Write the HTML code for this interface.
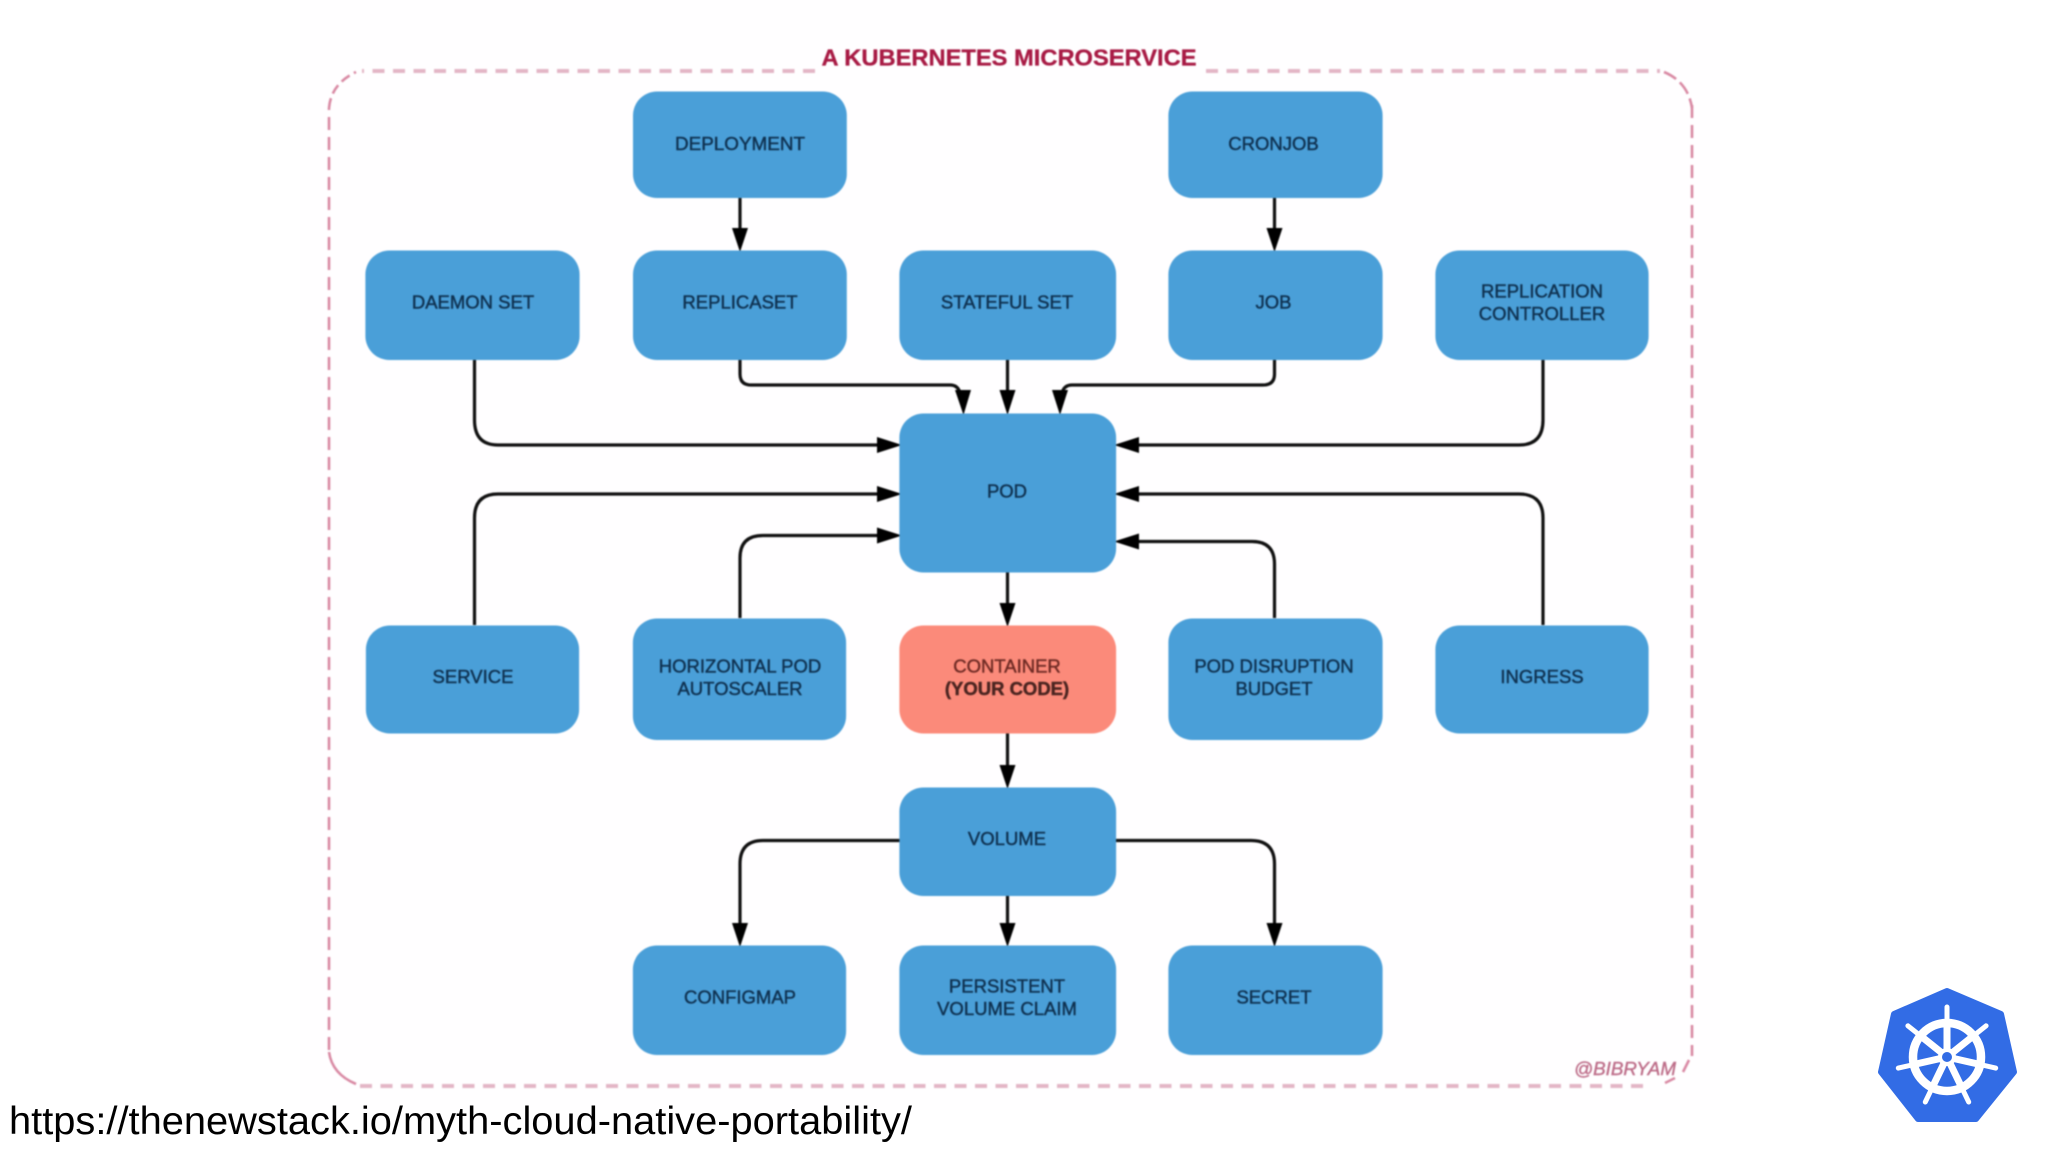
<!DOCTYPE html>
<html>
<head>
<meta charset="utf-8">
<style>
html,body{margin:0;padding:0;background:#fff;width:2048px;height:1152px;overflow:hidden}
svg{display:block;position:absolute;left:0;top:0}
text{font-family:"Liberation Sans",Arial,sans-serif}
.d{filter:blur(.9px)}
.b{fill:#4a9fd8}
.t text,.t{font-size:18.5px;fill:#0f3150;text-anchor:middle;stroke:#0f3150;stroke-width:.45}
.c{fill:none;stroke:#101010;stroke-width:3.2}
.a{fill:#000}
.ds{fill:none;stroke:#e3b6c6;stroke-width:4;stroke-dasharray:12 8.5}
.dv{fill:none;stroke:#d98aa4;stroke-width:2.6;stroke-dasharray:13 7}
</style>
</head>
<body>
<svg width="2048" height="1152" viewBox="0 0 2048 1152" xmlns="http://www.w3.org/2000/svg">
<rect width="2048" height="1152" fill="#fff"/>
<rect x="300" y="0" width="1420" height="1110" fill="#fffeff"/>
<g class="d">
  <!-- dashed frame -->
  <path class="ds" d="M815 71H362"/>
  <path class="ds" d="M1206 71H1660"/>
  <path class="ds" d="M360 1086H1650"/>
  <path class="dv" d="M329 1050V108"/>
  <path class="dv" d="M1692 105V1056"/>
  <path d="M329 108Q331 84 356 72" fill="none" stroke="#d98aa4" stroke-width="2.6" stroke-dasharray="10 5"/>
  <path d="M1664 72Q1688 82 1692 108" fill="none" stroke="#d98aa4" stroke-width="2.6" stroke-dasharray="14 5"/>
  <path d="M329 1052Q332 1074 356 1084" fill="none" stroke="#d98aa4" stroke-width="2.6"/>
  <path d="M1665 1083L1675 1078M1683 1072L1689 1060" fill="none" stroke="#d98aa4" stroke-width="2.6"/>
  <text x="1009" y="65.5" text-anchor="middle" font-size="23.5" font-weight="700" fill="#a81a44" stroke="#a81a44" stroke-width=".3" textLength="375" lengthAdjust="spacingAndGlyphs">A KUBERNETES MICROSERVICE</text>
  <text x="1574" y="1075" font-size="18.3" font-style="italic" fill="#bd6c88" stroke="#bd6c88" stroke-width=".4" textLength="102" lengthAdjust="spacingAndGlyphs">@BIBRYAM</text>

  <!-- connectors -->
  <path class="c" d="M740 198V232"/>
  <path class="c" d="M1274.5 198V232"/>
  <path class="c" d="M740 360V374Q740 385 751 385H950Q958 385 960 393"/>
  <path class="c" d="M1007.5 360V394"/>
  <path class="c" d="M1274.5 360V374Q1274.5 385 1263 385H1072Q1064 385 1062 393"/>
  <path class="c" d="M474.5 360V420Q474.5 445 498 445H882"/>
  <path class="c" d="M1543 360V420Q1543 445 1519 445H1134"/>
  <path class="c" d="M474.5 625V518Q474.5 494 498 494H882"/>
  <path class="c" d="M1543 625V518Q1543 494 1519 494H1134"/>
  <path class="c" d="M740 618V558Q740 535.500 763 535.500H882"/>
  <path class="c" d="M1274.5 618V564Q1274.5 541.5 1252 541.5H1134"/>
  <path class="c" d="M1007.5 572V606"/>
  <path class="c" d="M1007.5 733V768"/>
  <path class="c" d="M1007.5 896V926"/>
  <path class="c" d="M900 840.5H763Q740 840.5 740 864V926"/>
  <path class="c" d="M1116 840.5H1251Q1274.5 840.5 1274.5 864V926"/>

  <!-- arrowheads -->
  <polygon class="a" points="732,228 748,228 740,252"/>
  <polygon class="a" points="1266.500,228 1282.500,228 1274.5,252"/>
  <polygon class="a" points="955,390 971,390 963.500,415"/>
  <polygon class="a" points="999.500,390 1015.500,390 1007.5,415"/>
  <polygon class="a" points="1052,390 1068,390 1060,415"/>
  <polygon class="a" points="877,437 877,453 902,445"/>
  <polygon class="a" points="1139,437 1139,453 1114,445"/>
  <polygon class="a" points="877,486 877,502 902,494"/>
  <polygon class="a" points="1139,486 1139,502 1114,494"/>
  <polygon class="a" points="877,527.500 877,543.500 902,535.500"/>
  <polygon class="a" points="1139,533.500 1139,549.500 1114,541.500"/>
  <polygon class="a" points="999.500,603 1015.500,603 1007.5,627"/>
  <polygon class="a" points="999.500,765 1015.500,765 1007.5,789"/>
  <polygon class="a" points="999.500,923 1015.500,923 1007.5,947"/>
  <polygon class="a" points="732,923 748,923 740,947"/>
  <polygon class="a" points="1266.500,923 1282.500,923 1274.5,947"/>

  <!-- boxes -->
  <rect class="b" x="633" y="91.500" width="213.800" height="106.500" rx="24"/>
  <rect class="b" x="1168.400" y="91.500" width="214.200" height="106.500" rx="24"/>
  <rect class="b" x="365.400" y="250.500" width="214.200" height="109.500" rx="24"/>
  <rect class="b" x="633" y="250.500" width="213.800" height="109.500" rx="24"/>
  <rect class="b" x="899.400" y="250.500" width="216.700" height="109.500" rx="24"/>
  <rect class="b" x="1168.400" y="250.500" width="214.200" height="109.500" rx="24"/>
  <rect class="b" x="1435.400" y="250.500" width="213.200" height="109.500" rx="24"/>
  <rect class="b" x="899.400" y="413.500" width="216.700" height="159" rx="24"/>
  <rect class="b" x="365.900" y="625.500" width="213.200" height="108" rx="24"/>
  <rect class="b" x="632.900" y="618.500" width="213.200" height="121.500" rx="24"/>
  <rect x="899.400" y="625.500" width="216.700" height="108" rx="24" fill="#fb8a7a"/>
  <rect class="b" x="1168.400" y="618.500" width="214.200" height="121.500" rx="24"/>
  <rect class="b" x="1435.400" y="625.500" width="213.200" height="108" rx="24"/>
  <rect class="b" x="899.400" y="787.500" width="216.700" height="108.500" rx="24"/>
  <rect class="b" x="632.900" y="945.500" width="213.200" height="109.500" rx="24"/>
  <rect class="b" x="899.400" y="945.500" width="216.700" height="109.500" rx="24"/>
  <rect class="b" x="1168.400" y="945.500" width="214.200" height="109.500" rx="24"/>

  <!-- labels -->
  <g class="t">
    <text x="740" y="150" textLength="130" lengthAdjust="spacingAndGlyphs">DEPLOYMENT</text>
    <text x="1273.500" y="150">CRONJOB</text>
    <text x="473" y="308.500">DAEMON SET</text>
    <text x="740" y="308.500">REPLICASET</text>
    <text x="1007" y="308.500">STATEFUL SET</text>
    <text x="1273.500" y="308.500">JOB</text>
    <text x="1542" y="297.500">REPLICATION</text>
    <text x="1542" y="320">CONTROLLER</text>
    <text x="1007" y="497.500">POD</text>
    <text x="473" y="683">SERVICE</text>
    <text x="740" y="672.500">HORIZONTAL POD</text>
    <text x="740" y="695">AUTOSCALER</text>
    <text x="1007" y="672.500" style="fill:#6e2a24;stroke:#6e2a24">CONTAINER</text>
    <text x="1007" y="695" font-weight="700" style="fill:#4a2420;stroke:#4a2420">(YOUR CODE)</text>
    <text x="1274" y="672.500">POD DISRUPTION</text>
    <text x="1274" y="695">BUDGET</text>
    <text x="1542" y="683">INGRESS</text>
    <text x="1007" y="845">VOLUME</text>
    <text x="740" y="1003.500">CONFIGMAP</text>
    <text x="1007" y="992.500">PERSISTENT</text>
    <text x="1007" y="1015">VOLUME CLAIM</text>
    <text x="1274" y="1003.500">SECRET</text>
  </g>
</g>

<!-- URL -->
<text x="9" y="1134" font-size="39" fill="#000" textLength="903" lengthAdjust="spacingAndGlyphs">https://thenewstack.io/myth-cloud-native-portability/</text>

<!-- Kubernetes logo -->
<polygon points="1947,991 2001,1014 2014,1072 1976,1119 1918,1119 1881,1072 1894,1014" fill="#326ce5" stroke="#326ce5" stroke-width="6" stroke-linejoin="round"/>
<g transform="translate(1947 1057)" stroke="#fff" fill="none" stroke-linecap="round">
  <circle r="34" stroke-width="8.500"/>
  <g stroke-width="5">
    <path d="M0 0L0 -50M0 0L39.100 -31.200M0 0L48.700 11.100M0 0L21.700 45M0 0L-21.700 45M0 0L-48.700 11.100M0 0L-39.100 -31.200"/>
  </g>
  <g stroke-width="7" stroke-linecap="butt">
    <path d="M0 0L0 -32M0 0L25 -20M0 0L31 7M0 0L14 29M0 0L-14 29M0 0L-31 7M0 0L-25 -20"/>
  </g>
  <circle r="9" fill="#fff" stroke="none"/>
  <circle r="5" fill="#326ce5" stroke="none"/>
</g>
</svg>
</body>
</html>
